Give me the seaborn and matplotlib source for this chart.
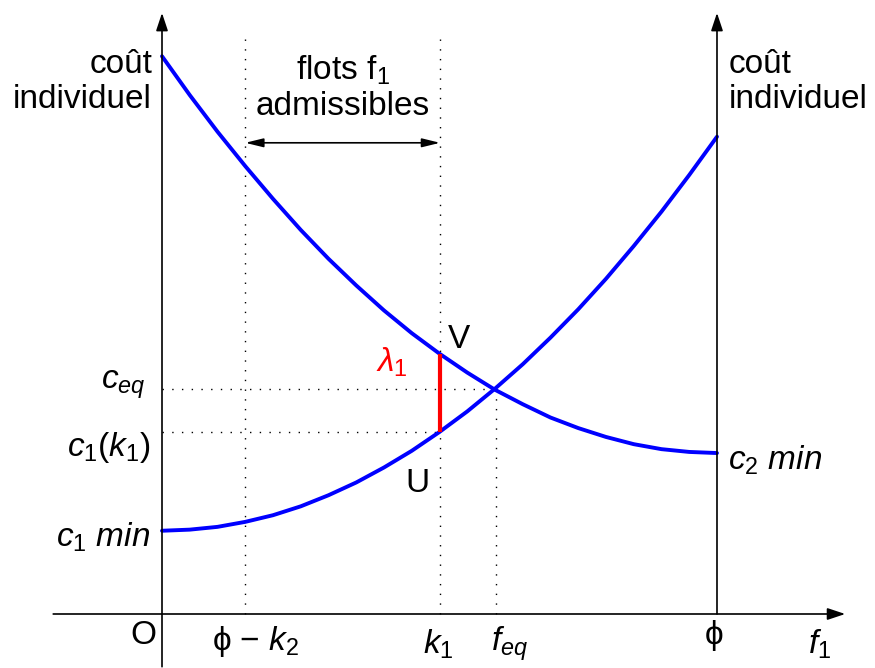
import numpy as np
import pandas as pd
import matplotlib
matplotlib.use("Agg")
import matplotlib.pyplot as plt
import seaborn as sns

# ==========================================
# DATA (phi = 1)
# ==========================================
flow_f1 = [0.00, 0.05, 0.10, 0.15, 0.20, 0.25, 0.30, 0.35, 0.40, 0.45, 0.50,
           0.55, 0.60, 0.65, 0.70, 0.75, 0.80, 0.85, 0.90, 0.95, 1.00]
cost_c1 = [0.150, 0.152, 0.157, 0.166, 0.178, 0.194, 0.214, 0.237, 0.264, 0.294, 0.328,
           0.365, 0.406, 0.450, 0.498, 0.549, 0.604, 0.663, 0.725, 0.791, 0.860]
cost_c2 = [1.005, 0.935, 0.869, 0.807, 0.748, 0.692, 0.640, 0.592, 0.547, 0.506, 0.469,
           0.435, 0.404, 0.378, 0.354, 0.335, 0.319, 0.306, 0.297, 0.292, 0.290]

phi_minus_k2 = 0.15
k1 = 0.501
f_eq = 0.602
c_eq = 0.405
c1_k1 = 0.328
c2_k1 = 0.469

curves = pd.DataFrame({
    "f1": flow_f1 * 2,
    "cost": cost_c1 + cost_c2,
    "curve": ["c1"] * len(flow_f1) + ["c2"] * len(flow_f1),
})

# ==========================================
# STYLE
# ==========================================
sns.set_theme(style="white")
plt.rcParams["font.family"] = ["Liberation Sans", "DejaVu Sans"]
plt.rcParams["text.color"] = "black"
plt.rcParams["mathtext.fontset"] = "custom"
plt.rcParams["mathtext.rm"] = "Liberation Sans"
plt.rcParams["mathtext.it"] = "Liberation Sans:italic"
plt.rcParams["mathtext.bf"] = "Liberation Sans:bold"

FS = 24
BLUE = "#0000ff"
RED = "#ff0000"

fig = plt.figure(figsize=(8.75, 6.68), dpi=100)
ax = fig.add_axes([0, 0, 1, 1])
ax.set_xlim(-0.2919, 1.2847)
ax.set_ylim(-0.0973, 1.1063)
ax.axis("off")

# axes with arrows
arrow_kw = dict(arrowstyle="-|>,head_length=0.9,head_width=0.3", color="black", lw=1.2,
                shrinkA=0, shrinkB=0)
ax.annotate("", xy=(1.231, 0), xytext=(-0.196, 0), arrowprops=arrow_kw)
ax.annotate("", xy=(0, 1.083), xytext=(0, -0.095), arrowprops=arrow_kw)
ax.annotate("", xy=(1, 1.083), xytext=(1, 0), arrowprops=arrow_kw)

# dotted guides
dot = dict(color="black", lw=1.0, linestyle=(0, (1, 6)))
ax.plot([phi_minus_k2, phi_minus_k2], [0, 1.047], **dot)
ax.plot([k1, k1], [0, 1.047], **dot)
ax.plot([f_eq, f_eq], [0, c_eq], **dot)
ax.plot([0, f_eq], [c_eq, c_eq], **dot)
ax.plot([0, k1], [c1_k1, c1_k1], **dot)

# cost curves
sns.lineplot(data=curves, x="f1", y="cost", units="curve", estimator=None,
             color=BLUE, lw=2.8, ax=ax, legend=False)

# lambda_1 gap
ax.plot([k1, k1], [c1_k1, c2_k1], color=RED, lw=3, solid_capstyle="butt")

# admissible flows arrow
ax.annotate("", xy=(k1, 0.849), xytext=(phi_minus_k2, 0.849),
            arrowprops=dict(arrowstyle="<|-|>,head_length=0.9,head_width=0.22",
                            color="black", lw=1.2, shrinkA=0, shrinkB=0))

# ==========================================
# TEXT
# ==========================================
def px(x, y):
    return (x - 162) / 555, (614 - y) / 555

ax.text(*px(152, 82), "coût\nindividuel", fontsize=FS, ha="right", va="center",
        multialignment="right", linespacing=1.15)
ax.text(*px(729, 82), "coût\nindividuel", fontsize=FS, ha="left", va="center",
        multialignment="left", linespacing=1.15)
ax.text(*px(343, 88), "flots f$_\\mathrm{1}$\nadmissibles", fontsize=FS, ha="center",
        va="center", multialignment="center", linespacing=1.15)

ax.text(*px(146, 385), "$c_{eq}$", fontsize=FS, ha="right", va="center")
ax.text(*px(150, 448), "$c_1(k_1)$", fontsize=FS, ha="right", va="center")
ax.text(*px(150, 537), "$c_1\\ min$", fontsize=FS, ha="right", va="center")
ax.text(*px(728, 460), "$c_2\\ min$", fontsize=FS, ha="left", va="center")

ax.text(*px(459, 340), "V", fontsize=FS, ha="center", va="center")
ax.text(*px(417, 484), "U", fontsize=FS, ha="center", va="center")
ax.text(*px(392, 362), "$\\lambda_1$", fontsize=FS, ha="center", va="center", color=RED)

ax.text(*px(143, 636), "O", fontsize=FS, ha="center", va="center")
ax.text(*px(256, 642), "\u03d5 \u2212 $k_2$", fontsize=FS, ha="center", va="center")
ax.text(*px(438, 644), "$k_1$", fontsize=FS, ha="center", va="center")
ax.text(*px(510, 644), "$f_{eq}$", fontsize=FS, ha="center", va="center")
ax.text(*px(714, 636), "\u03d5", fontsize=FS, ha="center", va="center")
ax.text(*px(820, 644), "$f_1$", fontsize=FS, ha="center", va="center")

fig.savefig("out.png", dpi=100)
